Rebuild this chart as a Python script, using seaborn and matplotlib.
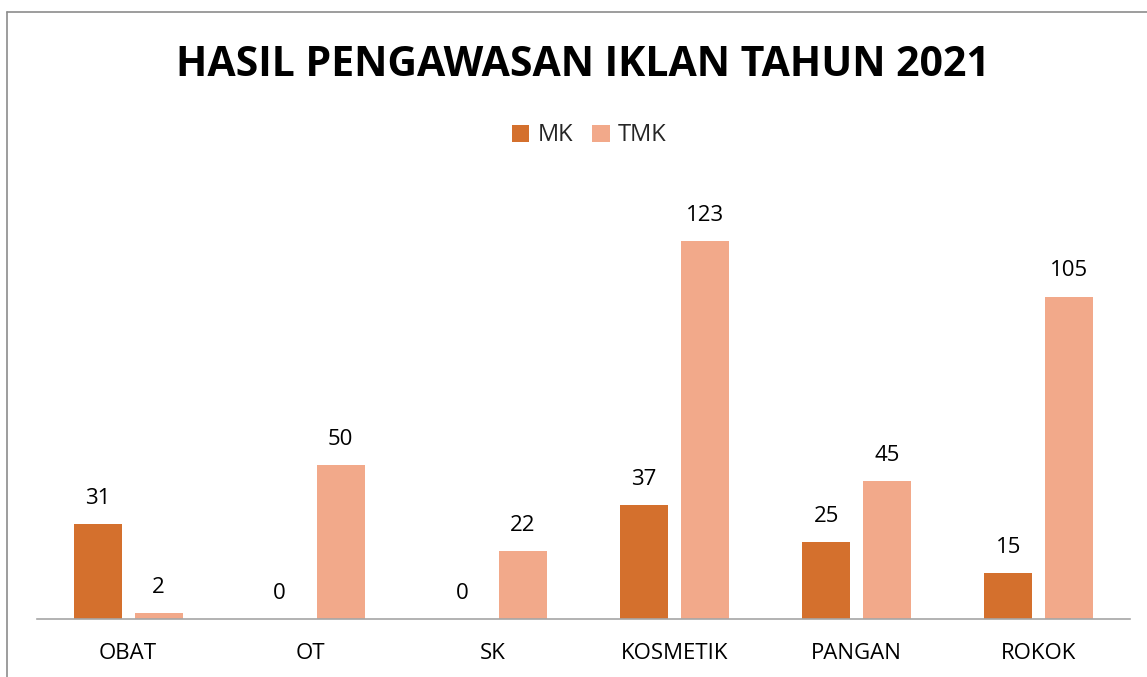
import matplotlib
matplotlib.use("Agg")
import matplotlib.pyplot as plt
import matplotlib.lines as mlines
import pandas as pd
import seaborn as sns

categories = ["OBAT", "OT", "SK", "KOSMETIK", "PANGAN", "ROKOK"]
mk_values = [31, 0, 0, 37, 25, 15]
tmk_values = [2, 50, 22, 123, 45, 105]
series_names = ["MK", "TMK"]
colors = ["#D4702D", "#F2A98A"]

df = pd.DataFrame({
    "kategori": categories * 2,
    "jumlah": mk_values + tmk_values,
    "status": [series_names[0]] * len(categories) + [series_names[1]] * len(categories),
})

sns.set_style("white")
plt.rcParams["font.family"] = ["Open Sans", "DejaVu Sans"]

fig = plt.figure(figsize=(11.47, 6.77), dpi=100)
ax = fig.add_axes([0.0323, 0.0857, 0.9527, 0.635])

sns.barplot(
    data=df,
    x="kategori",
    y="jumlah",
    hue="status",
    palette=colors,
    saturation=1,
    width=0.67,
    gap=0.21,
    linewidth=0,
    ax=ax,
)

ax.set_ylim(0, 140)
ax.set_xlim(-0.5, len(categories) - 0.5)

for container in ax.containers:
    ax.bar_label(container, padding=11, fontsize=16, color="#000000")

ax.set_xlabel("")
ax.set_ylabel("")
ax.set_yticks([])
ax.tick_params(axis="x", length=0, pad=17, labelsize=16, colors="#000000")

for side in ["top", "right", "left"]:
    ax.spines[side].set_visible(False)
ax.spines["bottom"].set_color("#A6A6A6")
ax.spines["bottom"].set_linewidth(1.2)

handles, labels = ax.get_legend_handles_labels()
ax.legend(
    handles,
    labels,
    loc="center",
    bbox_to_anchor=(0.5135, 0.8),
    bbox_transform=fig.transFigure,
    ncol=2,
    frameon=False,
    fontsize=17,
    handlelength=0.75,
    handleheight=0.75,
    handletextpad=0.35,
    columnspacing=0.8,
)

fig.text(
    0.508, 0.903,
    "HASIL PENGAWASAN IKLAN TAHUN 2021",
    ha="center", va="center",
    fontsize=29.5, fontweight="bold", color="#000000",
)

# chart border (top and left edges visible in the reference)
fig.add_artist(mlines.Line2D([0.0061, 1.0], [0.9823, 0.9823],
                             transform=fig.transFigure, color="#8C8C8C", linewidth=1.2))
fig.add_artist(mlines.Line2D([0.0061, 0.0061], [0.0, 0.9823],
                             transform=fig.transFigure, color="#8C8C8C", linewidth=1.2))

fig.savefig("out.png", dpi=100)
plt.close(fig)
